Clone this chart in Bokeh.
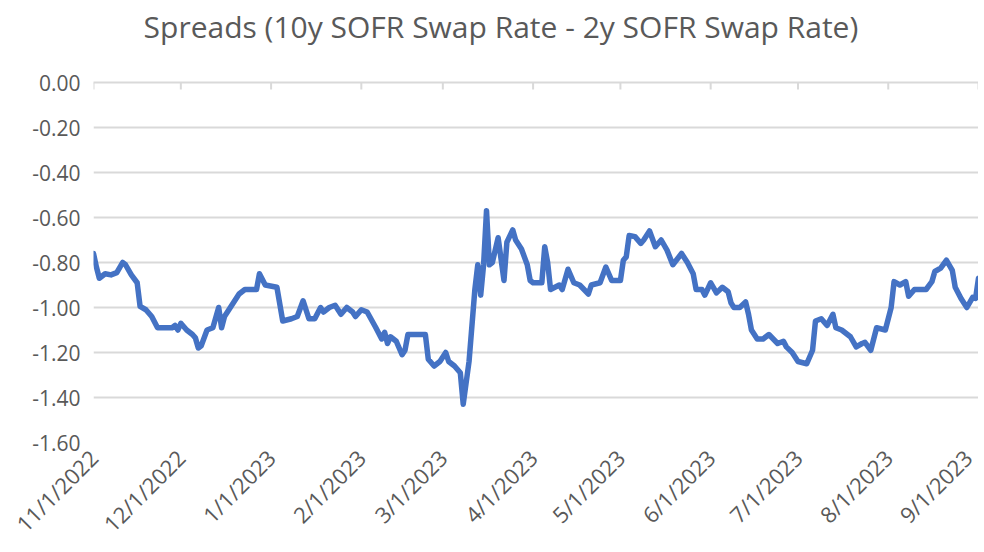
import math
import pandas as pd
from bokeh.plotting import figure
from bokeh.models import FixedTicker, LinearAxis, ColumnDataSource, PrintfTickFormatter
from bokeh.embed import file_html
from bokeh.resources import INLINE

title_text = "Spreads (10y SOFR Swap Rate - 2y SOFR Swap Rate)"

dates = [
    "2022-11-01", "2022-11-02", "2022-11-03", "2022-11-05", "2022-11-07", "2022-11-09",
    "2022-11-11", "2022-11-12", "2022-11-14", "2022-11-16", "2022-11-17", "2022-11-19",
    "2022-11-21", "2022-11-23", "2022-11-28", "2022-11-29", "2022-11-30", "2022-12-01",
    "2022-12-03", "2022-12-05", "2022-12-06", "2022-12-07", "2022-12-08", "2022-12-10",
    "2022-12-12", "2022-12-14", "2022-12-15", "2022-12-16", "2022-12-18", "2022-12-21",
    "2022-12-23", "2022-12-27", "2022-12-28", "2022-12-30", "2023-01-03", "2023-01-05",
    "2023-01-08", "2023-01-10", "2023-01-12", "2023-01-14", "2023-01-16", "2023-01-18",
    "2023-01-19", "2023-01-21", "2023-01-23", "2023-01-25", "2023-01-27", "2023-01-29",
    "2023-01-30", "2023-02-01", "2023-02-03", "2023-02-06", "2023-02-08", "2023-02-09",
    "2023-02-10", "2023-02-11", "2023-02-13", "2023-02-15", "2023-02-16", "2023-02-17",
    "2023-02-22", "2023-02-23", "2023-02-24", "2023-02-26", "2023-02-28", "2023-03-02",
    "2023-03-03", "2023-03-05", "2023-03-07", "2023-03-08", "2023-03-10", "2023-03-12",
    "2023-03-13", "2023-03-14", "2023-03-15", "2023-03-16", "2023-03-17", "2023-03-18",
    "2023-03-20", "2023-03-22", "2023-03-23", "2023-03-25", "2023-03-26", "2023-03-28",
    "2023-03-30", "2023-03-31", "2023-04-01", "2023-04-04", "2023-04-05", "2023-04-06",
    "2023-04-07", "2023-04-10", "2023-04-11", "2023-04-13", "2023-04-15", "2023-04-17",
    "2023-04-20", "2023-04-21", "2023-04-24", "2023-04-26", "2023-04-28", "2023-05-01",
    "2023-05-02", "2023-05-03", "2023-05-04", "2023-05-06", "2023-05-08", "2023-05-09",
    "2023-05-11", "2023-05-13", "2023-05-15", "2023-05-17", "2023-05-19", "2023-05-22",
    "2023-05-24", "2023-05-26", "2023-05-27", "2023-05-29", "2023-05-30", "2023-06-01",
    "2023-06-03", "2023-06-05", "2023-06-07", "2023-06-08", "2023-06-09", "2023-06-11",
    "2023-06-13", "2023-06-14", "2023-06-15", "2023-06-17", "2023-06-19", "2023-06-21",
    "2023-06-24", "2023-06-26", "2023-06-27", "2023-06-29", "2023-07-01", "2023-07-04",
    "2023-07-06", "2023-07-07", "2023-07-09", "2023-07-11", "2023-07-13", "2023-07-14",
    "2023-07-16", "2023-07-19", "2023-07-21", "2023-07-23", "2023-07-24", "2023-07-26",
    "2023-07-28", "2023-07-31", "2023-08-02", "2023-08-03", "2023-08-05", "2023-08-07",
    "2023-08-08", "2023-08-10", "2023-08-12", "2023-08-14", "2023-08-16", "2023-08-17",
    "2023-08-19", "2023-08-21", "2023-08-23", "2023-08-24", "2023-08-26", "2023-08-28",
    "2023-08-30", "2023-08-31", "2023-09-01",
]

spread = [
    -0.76, -0.82, -0.87, -0.85, -0.855, -0.845,
    -0.80, -0.81, -0.855, -0.89, -0.995, -1.01,
    -1.04, -1.09, -1.09, -1.08, -1.10, -1.07,
    -1.10, -1.12, -1.135, -1.18, -1.17, -1.10,
    -1.09, -1.00, -1.09, -1.04, -1.00, -0.94,
    -0.92, -0.92, -0.85, -0.90, -0.91, -1.06,
    -1.05, -1.04, -0.97, -1.05, -1.05, -1.00,
    -1.02, -1.00, -0.99, -1.03, -1.00, -1.02,
    -1.04, -1.01, -1.02, -1.09, -1.14, -1.11,
    -1.16, -1.13, -1.15, -1.21, -1.19, -1.12,
    -1.12, -1.12, -1.23, -1.26, -1.24, -1.20,
    -1.24, -1.26, -1.29, -1.43, -1.24, -0.92,
    -0.81, -0.945, -0.81, -0.57, -0.81, -0.80,
    -0.69, -0.88, -0.71, -0.655, -0.70, -0.74,
    -0.81, -0.88, -0.89, -0.89, -0.73, -0.80,
    -0.92, -0.90, -0.92, -0.83, -0.89, -0.90,
    -0.94, -0.90, -0.89, -0.82, -0.88, -0.88,
    -0.79, -0.775, -0.68, -0.685, -0.715, -0.70,
    -0.66, -0.73, -0.70, -0.745, -0.81, -0.76,
    -0.80, -0.85, -0.92, -0.92, -0.945, -0.89,
    -0.935, -0.91, -0.93, -0.98, -1.00, -1.00,
    -0.975, -1.03, -1.10, -1.14, -1.14, -1.12,
    -1.16, -1.15, -1.175, -1.20, -1.24, -1.25,
    -1.19, -1.06, -1.05, -1.08, -1.03, -1.09,
    -1.10, -1.13, -1.175, -1.16, -1.155, -1.19,
    -1.09, -1.10, -1.00, -0.885, -0.90, -0.885,
    -0.95, -0.92, -0.92, -0.92, -0.885, -0.84,
    -0.825, -0.79, -0.835, -0.91, -0.96, -1.00,
    -0.955, -0.96, -0.87,
]

month_ticks = ["2022-11-01", "2022-12-01", "2023-01-01", "2023-02-01", "2023-03-01",
               "2023-04-01", "2023-05-01", "2023-06-01", "2023-07-01", "2023-08-01",
               "2023-09-01"]
month_labels = ["11/1/2022", "12/1/2022", "1/1/2023", "2/1/2023", "3/1/2023",
                "4/1/2023", "5/1/2023", "6/1/2023", "7/1/2023", "8/1/2023", "9/1/2023"]
y_ticks = [0.0, -0.2, -0.4, -0.6, -0.8, -1.0, -1.2, -1.4, -1.6]

FONT = "Open Sans"
GREY_TXT = "#595959"
GRID = "#d9d9d9"

src = ColumnDataSource(dict(date=pd.to_datetime(dates), spread=spread))
tick_ms = [pd.Timestamp(d).value // 10**6 for d in month_ticks]

p = figure(
    x_axis_type="datetime",
    frame_width=885, frame_height=360,
    min_border_left=93, min_border_right=0, min_border_top=82, min_border_bottom=106,
    x_range=(pd.Timestamp(month_ticks[0]), pd.Timestamp(month_ticks[-1])),
    y_range=(y_ticks[-1], y_ticks[0]),
    output_backend="svg", toolbar_location=None,
)
p.outline_line_color = None
p.background_fill_color = "white"
p.border_fill_color = "white"

# y axis
p.yaxis.ticker = FixedTicker(ticks=y_ticks)
p.yaxis.formatter = PrintfTickFormatter(format="%.2f")
p.yaxis.axis_line_color = None
p.yaxis.major_tick_line_color = None
p.yaxis.minor_tick_line_color = None
p.yaxis.major_tick_out = 0
p.yaxis.major_tick_in = 0
p.yaxis.major_label_standoff = 13
p.yaxis.major_label_text_font = FONT
p.yaxis.major_label_text_font_size = "21px"
p.yaxis.major_label_text_color = GREY_TXT
p.ygrid.ticker = FixedTicker(ticks=y_ticks)
p.ygrid.grid_line_color = GRID
p.ygrid.grid_line_width = 2
p.xgrid.grid_line_color = None

# x axis (labels at bottom)
p.xaxis.ticker = FixedTicker(ticks=tick_ms)
p.xaxis.major_label_overrides = {t: lab for t, lab in zip(tick_ms, month_labels)}
p.xaxis.axis_line_color = None
p.xaxis.major_tick_line_color = None
p.xaxis.minor_tick_line_color = None
p.xaxis.major_tick_out = 0
p.xaxis.major_label_orientation = math.pi / 4
p.xaxis.major_label_standoff = 11
p.xaxis.major_label_text_font = FONT
p.xaxis.major_label_text_font_size = "22px"
p.xaxis.major_label_text_color = GREY_TXT

# short tick marks hanging down from the zero line at each month start
p.ray(x=pd.to_datetime(month_ticks), y=[y_ticks[0]] * len(month_ticks),
      length=7, length_units="screen", angle=-math.pi / 2,
      line_color=GRID, line_width=2)

p.line("date", "spread", source=src, line_color="#4472C4", line_width=5.5,
       line_join="round", line_cap="round")

# top axis: the zero line plus the chart title as its label
top_axis = LinearAxis(
    ticker=FixedTicker(ticks=[]),
    axis_line_color=GRID, axis_line_width=2,
    major_tick_line_color=None, major_tick_in=0, major_tick_out=0,
    minor_tick_line_color=None,
    major_label_standoff=0,
    axis_label=title_text + "\u00a0" * 9,
    axis_label_standoff=36,
    axis_label_text_font=FONT, axis_label_text_font_size="30px",
    axis_label_text_font_style="normal", axis_label_text_color=GREY_TXT,
)
p.add_layout(top_axis, "above")

open("out.html", "w").write(file_html(p, INLINE))
